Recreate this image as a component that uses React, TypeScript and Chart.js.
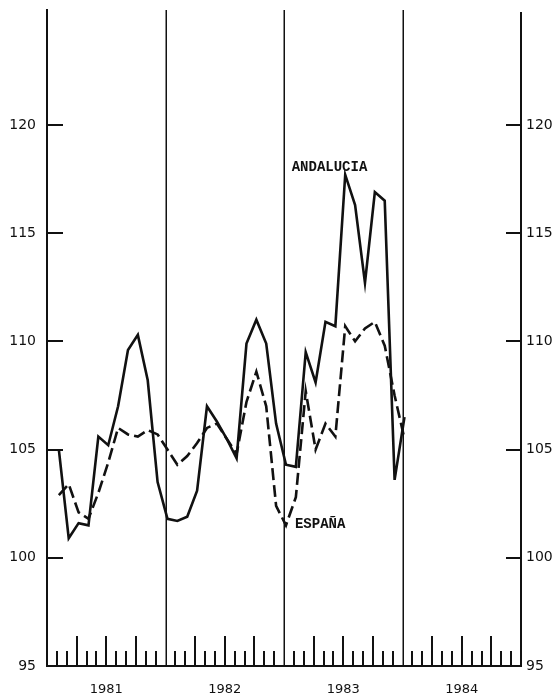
import React, { useEffect, useRef } from 'react';
import { Chart, registerables } from 'chart.js';

Chart.register(...registerables);

const W = 556;
const H = 698;

// ---- Data (monthly index: 0 = Jan 1981) ----
const YEARS = ['1981', '1982', '1983', '1984'];
const YEAR_CENTERS = [6, 18, 30, 42];
const YEAR_BOUNDARIES = [12, 24, 36];
const Y_TICKS = [95, 100, 105, 110, 115, 120];
const MONTH_INDEX = [
  1, 2, 3, 4, 5, 6, 7, 8, 9, 10, 11,
  12, 13, 14, 15, 16, 17, 18, 19, 20, 21, 22, 23,
  24, 25, 26, 27, 28, 29, 30, 31, 32, 33, 34, 35,
  36,
];
const ANDALUCIA = [
  105.0, 100.9, 101.6, 101.5, 105.6, 105.2, 107.0, 109.6, 110.3, 108.2, 103.5,
  101.8, 101.7, 101.9, 103.1, 107.0, 106.3, 105.5, 104.6, 109.9, 111.0, 109.9, 106.2,
  104.3, 104.2, 109.5, 108.1, 110.9, 110.7, 117.7, 116.3, 112.7, 116.9, 116.5, 103.6,
  106.5,
];
const ESPANA = [
  102.9, 103.4, 102.1, 101.8, 103.0, 104.4, 106.0, 105.7, 105.6, 105.9, 105.7,
  105.0, 104.3, 104.7, 105.3, 106.0, 106.2, 105.5, 104.8, 107.2, 108.6, 107.0, 102.4,
  101.5, 102.8, 107.7, 105.0, 106.2, 105.6, 110.7, 110.0, 110.6, 110.9, 109.8, 107.5,
  105.5,
];
const POINT_OFFSET = 0.2;

const INK = '#111111';

const framePlugin = {
  id: 'frame',
  beforeDatasetsDraw(chart: any) {
    const { ctx, chartArea, scales } = chart;
    const { left, right, top, bottom } = chartArea;
    const x = scales.x;
    const y = scales.y;
    ctx.save();
    ctx.strokeStyle = INK;
    ctx.lineCap = 'butt';
    // axes frame (left, bottom, right)
    ctx.lineWidth = 2;
    ctx.beginPath();
    ctx.moveTo(left, top - 1);
    ctx.lineTo(left, bottom);
    ctx.lineTo(right, bottom);
    ctx.lineTo(right, top + 2);
    ctx.stroke();
    // year separators
    ctx.lineWidth = 1.5;
    for (const m of YEAR_BOUNDARIES) {
      const px = Math.round(x.getPixelForValue(m)) + 0.25;
      ctx.beginPath();
      ctx.moveTo(px, top);
      ctx.lineTo(px, bottom);
      ctx.stroke();
    }
    // monthly ticks on bottom axis (inward)
    ctx.lineWidth = 2;
    for (let k = 1; k < 48; k++) {
      if (k % 12 === 0) continue;
      const px = Math.round(x.getPixelForValue(k));
      const len = k % 3 === 0 ? 30 : 15;
      ctx.beginPath();
      ctx.moveTo(px, bottom);
      ctx.lineTo(px, bottom - len);
      ctx.stroke();
    }
    // y ticks (inward) left and right
    for (const v of Y_TICKS) {
      if (v === 95) continue;
      const py = Math.round(y.getPixelForValue(v));
      ctx.beginPath();
      ctx.moveTo(left, py);
      ctx.lineTo(left + 16, py);
      ctx.moveTo(right - 15, py);
      ctx.lineTo(right, py);
      ctx.stroke();
    }
    ctx.restore();
  },
  afterDatasetsDraw(chart: any) {
    const { ctx, scales } = chart;
    const x = scales.x;
    const y = scales.y;
    ctx.save();
    ctx.fillStyle = INK;
    ctx.font = 'bold 14px "Liberation Mono", "DejaVu Sans Mono", monospace';
    ctx.textAlign = 'left';
    ctx.textBaseline = 'alphabetic';
    ctx.fillText('ANDALUCIA', x.getPixelForValue(24.78), y.getPixelForValue(117.89));
    ctx.fillText('ESPAÑA', x.getPixelForValue(25.11), y.getPixelForValue(101.36));
    ctx.restore();
  },
};

export default function App() {
  const ref = useRef<HTMLCanvasElement>(null);
  useEffect(() => {
    const canvas = ref.current;
    if (!canvas) return;
    const toPoints = (vals: number[]) =>
      vals.map((v, i) => ({ x: MONTH_INDEX[i] + POINT_OFFSET, y: v }));
    const yTickFont = { family: '"DejaVu Sans", sans-serif', size: 14 };
    const yScaleBase = (position: 'left' | 'right', width: number, padding: number) => ({
      type: 'linear' as const,
      position,
      min: 95,
      max: 125.31,
      grid: { display: false, drawTicks: false },
      border: { display: false },
      afterBuildTicks: (s: any) => {
        s.ticks = Y_TICKS.map((v) => ({ value: v }));
      },
      afterFit: (s: any) => {
        s.width = width;
        s.paddingTop = 0;
        s.paddingBottom = 0;
      },
      ticks: {
        padding,
        font: yTickFont,
        color: INK,
        callback: (v: any) => String(v),
      },
    });
    const chart = new Chart(canvas, {
      type: 'line',
      data: {
        datasets: [
          {
            label: 'ANDALUCIA',
            data: toPoints(ANDALUCIA),
            borderColor: INK,
            borderWidth: 2.6,
            pointRadius: 0,
            tension: 0,
            fill: false,
          },
          {
            label: 'ESPAÑA',
            data: toPoints(ESPANA),
            borderColor: INK,
            borderWidth: 2.6,
            borderDash: [12, 5],
            pointRadius: 0,
            tension: 0,
            fill: false,
          },
        ],
      },
      options: {
        animation: false,
        responsive: false,
        devicePixelRatio: 1,
        layout: { padding: { top: 10, left: 0, right: 0, bottom: 0 } },
        plugins: { legend: { display: false }, tooltip: { enabled: false } },
        scales: {
          x: {
            type: 'linear',
            min: 0,
            max: 48,
            grid: { display: false, drawTicks: false },
            border: { display: false },
            afterBuildTicks: (s: any) => {
              s.ticks = YEAR_CENTERS.map((v) => ({ value: v }));
            },
            afterFit: (s: any) => {
              s.height = 32;
              s.paddingLeft = 0;
              s.paddingRight = 0;
            },
            ticks: {
              autoSkip: false,
              maxRotation: 0,
              padding: 16,
              font: { family: '"DejaVu Sans", sans-serif', size: 13 },
              color: INK,
              callback: (_v: any, i: number) => YEARS[i],
            },
          },
          y: yScaleBase('left', 47, 11),
          y2: yScaleBase('right', 35, 5),
        },
      } as any,
      plugins: [framePlugin],
    });
    return () => chart.destroy();
  }, []);
  return (
    <div style={{ position: 'fixed', left: 0, top: 0, width: W, height: H, background: '#fff' }}>
      <canvas ref={ref} width={W} height={H} style={{ display: 'block', width: W, height: H }} />
    </div>
  );
}
